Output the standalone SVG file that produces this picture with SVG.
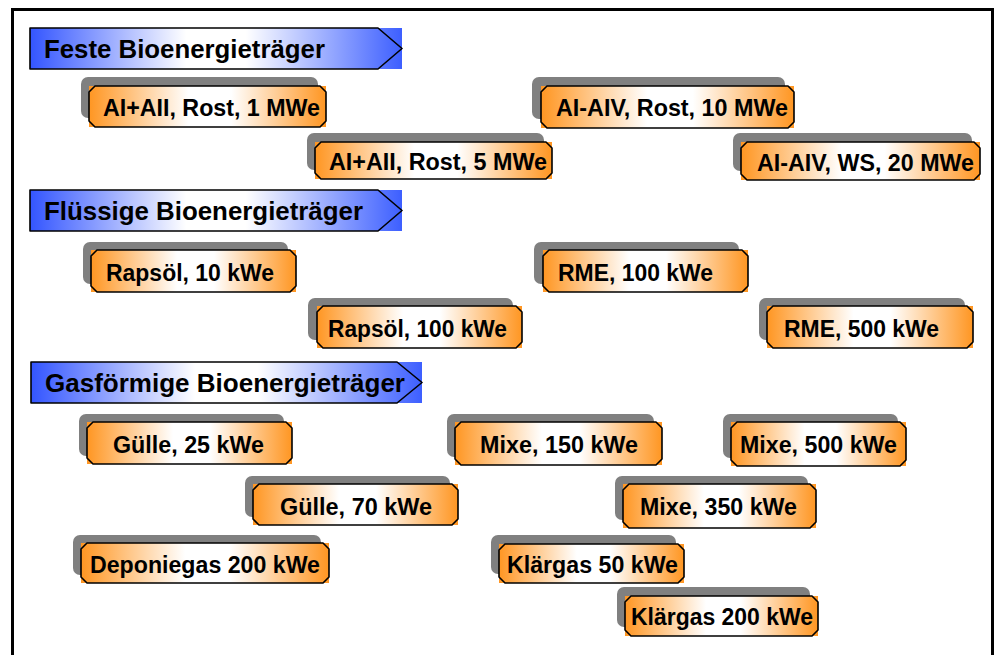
<svg xmlns="http://www.w3.org/2000/svg" width="994" height="655" viewBox="0 0 994 655">
<defs>
<linearGradient id="gBlue" x1="0" y1="0" x2="1" y2="0">
<stop offset="0" stop-color="#3355FF"/>
<stop offset="0.42" stop-color="#FFFFFF"/>
<stop offset="0.58" stop-color="#FFFFFF"/>
<stop offset="1" stop-color="#3D5FFF"/>
</linearGradient>
<linearGradient id="gOrange" x1="0" y1="0" x2="1" y2="0">
<stop offset="0" stop-color="#FF9622"/>
<stop offset="0.42" stop-color="#FFFFFF"/>
<stop offset="0.6" stop-color="#FFFFFF"/>
<stop offset="1" stop-color="#FF9622"/>
</linearGradient>
<style>
.shadow{fill:#808080;}
.ofill{fill:url(#gOrange);}
.bfill{fill:url(#gBlue);}
.outline{fill:none;stroke:#000;stroke-width:1.6;stroke-linejoin:round;}
.lbl{font-family:"Liberation Sans",Arial,sans-serif;font-weight:bold;font-size:23px;fill:#000;}
.hdr{font-family:"Liberation Sans",Arial,sans-serif;font-weight:bold;font-size:25px;fill:#000;}
.frame{fill:none;stroke:#000;stroke-width:3;}
</style>
</defs>
<rect x="0" y="0" width="994" height="655" fill="#FFFFFF"/>
<path class="frame" d="M12.5,656 V9.5 H992.5 V656"/>

<g id="hdr-feste">
<rect class="bfill" x="30" y="28" width="372" height="41"/>
<path class="outline" d="M30,28 H378 L402,48.5 L378,69 H30 Z"/>
<text class="hdr" x="44" y="58" textLength="281" lengthAdjust="spacingAndGlyphs">Feste Bioenergieträger</text>
</g>
<g id="hdr-fluessig">
<rect class="bfill" x="30" y="190" width="372" height="41"/>
<path class="outline" d="M30,190 H378 L402,210.5 L378,231 H30 Z"/>
<text class="hdr" x="44" y="220" textLength="319" lengthAdjust="spacingAndGlyphs">Flüssige Bioenergieträger</text>
</g>
<g id="hdr-gas">
<rect class="bfill" x="31" y="362" width="391" height="41"/>
<path class="outline" d="M31,362 H397 L422,382.5 L397,403 H31 Z"/>
<text class="hdr" x="45" y="392" textLength="360" lengthAdjust="spacingAndGlyphs">Gasförmige Bioenergieträger</text>
</g>

<g id="n1">
<rect class="shadow" x="81" y="77" width="237" height="41" rx="7"/>
<rect class="ofill" x="89" y="86" width="237" height="41"/>
<path class="outline" d="M95,86 H320 L326,92 V121 L320,127 H95 L89,121 V92 Z"/>
<text class="lbl" x="103" y="116" textLength="217" lengthAdjust="spacingAndGlyphs">AI+AII, Rost, 1 MWe</text>
</g>
<g id="n2">
<rect class="shadow" x="307" y="133" width="237" height="37" rx="7"/>
<rect class="ofill" x="315" y="142" width="237" height="37"/>
<path class="outline" d="M321,142 H546 L552,148 V173 L546,179 H321 L315,173 V148 Z"/>
<text class="lbl" x="329" y="170" textLength="218" lengthAdjust="spacingAndGlyphs">AI+AII, Rost, 5 MWe</text>
</g>
<g id="n3">
<rect class="shadow" x="532" y="77" width="253" height="42" rx="7"/>
<rect class="ofill" x="541" y="86" width="253" height="42"/>
<path class="outline" d="M547,86 H788 L794,92 V122 L788,128 H547 L541,122 V92 Z"/>
<text class="lbl" x="556" y="116" textLength="232" lengthAdjust="spacingAndGlyphs">AI-AIV, Rost, 10 MWe</text>
</g>
<g id="n4">
<rect class="shadow" x="733" y="133" width="239" height="38" rx="7"/>
<rect class="ofill" x="741" y="142" width="239" height="38"/>
<path class="outline" d="M747,142 H974 L980,148 V174 L974,180 H747 L741,174 V148 Z"/>
<text class="lbl" x="757" y="171" textLength="217" lengthAdjust="spacingAndGlyphs">AI-AIV, WS, 20 MWe</text>
</g>

<g id="n5">
<rect class="shadow" x="83" y="242" width="205" height="42" rx="7"/>
<rect class="ofill" x="91" y="250" width="205" height="42"/>
<path class="outline" d="M97,250 H290 L296,256 V286 L290,292 H97 L91,286 V256 Z"/>
<text class="lbl" x="106" y="281" textLength="168" lengthAdjust="spacingAndGlyphs">Rapsöl, 10 kWe</text>
</g>
<g id="n6">
<rect class="shadow" x="308" y="298" width="205" height="42" rx="7"/>
<rect class="ofill" x="317" y="306" width="205" height="42"/>
<path class="outline" d="M323,306 H516 L522,312 V342 L516,348 H323 L317,342 V312 Z"/>
<text class="lbl" x="328" y="337" textLength="179" lengthAdjust="spacingAndGlyphs">Rapsöl, 100 kWe</text>
</g>
<g id="n7">
<rect class="shadow" x="534" y="242" width="205" height="42" rx="7"/>
<rect class="ofill" x="543" y="250" width="205" height="42"/>
<path class="outline" d="M549,250 H742 L748,256 V286 L742,292 H549 L543,286 V256 Z"/>
<text class="lbl" x="558" y="281" textLength="155" lengthAdjust="spacingAndGlyphs">RME, 100 kWe</text>
</g>
<g id="n8">
<rect class="shadow" x="759" y="298" width="206" height="42" rx="7"/>
<rect class="ofill" x="767" y="306" width="206" height="42"/>
<path class="outline" d="M773,306 H967 L973,312 V342 L967,348 H773 L767,342 V312 Z"/>
<text class="lbl" x="784" y="337" textLength="155" lengthAdjust="spacingAndGlyphs">RME, 500 kWe</text>
</g>

<g id="n9">
<rect class="shadow" x="79" y="414" width="205" height="42" rx="7"/>
<rect class="ofill" x="87" y="422" width="205" height="42"/>
<path class="outline" d="M93,422 H286 L292,428 V458 L286,464 H93 L87,458 V428 Z"/>
<text class="lbl" x="113" y="453" textLength="151" lengthAdjust="spacingAndGlyphs">Gülle, 25 kWe</text>
</g>
<g id="n10">
<rect class="shadow" x="245" y="476" width="205" height="41" rx="7"/>
<rect class="ofill" x="253" y="484" width="205" height="41"/>
<path class="outline" d="M259,484 H452 L458,490 V519 L452,525 H259 L253,519 V490 Z"/>
<text class="lbl" x="280" y="515" textLength="152" lengthAdjust="spacingAndGlyphs">Gülle, 70 kWe</text>
</g>
<g id="n11">
<rect class="shadow" x="73" y="535" width="248" height="40" rx="7"/>
<rect class="ofill" x="81" y="543" width="248" height="40"/>
<path class="outline" d="M87,543 H323 L329,549 V577 L323,583 H87 L81,577 V549 Z"/>
<text class="lbl" x="90" y="573" textLength="230" lengthAdjust="spacingAndGlyphs">Deponiegas 200 kWe</text>
</g>
<g id="n12">
<rect class="shadow" x="447" y="414" width="207" height="43" rx="7"/>
<rect class="ofill" x="455" y="422" width="207" height="43"/>
<path class="outline" d="M461,422 H656 L662,428 V459 L656,465 H461 L455,459 V428 Z"/>
<text class="lbl" x="480" y="453" textLength="158" lengthAdjust="spacingAndGlyphs">Mixe, 150 kWe</text>
</g>
<g id="n13">
<rect class="shadow" x="723" y="414" width="175" height="44" rx="7"/>
<rect class="ofill" x="731" y="422" width="175" height="44"/>
<path class="outline" d="M737,422 H900 L906,428 V460 L900,466 H737 L731,460 V428 Z"/>
<text class="lbl" x="740" y="453" textLength="157" lengthAdjust="spacingAndGlyphs">Mixe, 500 kWe</text>
</g>
<g id="n14">
<rect class="shadow" x="615" y="476" width="193" height="44" rx="7"/>
<rect class="ofill" x="623" y="484" width="193" height="44"/>
<path class="outline" d="M629,484 H810 L816,490 V522 L810,528 H629 L623,522 V490 Z"/>
<text class="lbl" x="640" y="515" textLength="157" lengthAdjust="spacingAndGlyphs">Mixe, 350 kWe</text>
</g>
<g id="n15">
<rect class="shadow" x="491" y="535" width="185" height="39" rx="7"/>
<rect class="ofill" x="499" y="544" width="185" height="39"/>
<path class="outline" d="M505,544 H678 L684,550 V577 L678,583 H505 L499,577 V550 Z"/>
<text class="lbl" x="507" y="573" textLength="171" lengthAdjust="spacingAndGlyphs">Klärgas 50 kWe</text>
</g>
<g id="n16">
<rect class="shadow" x="617" y="587" width="193" height="40" rx="7"/>
<rect class="ofill" x="625" y="596" width="193" height="40"/>
<path class="outline" d="M631,596 H812 L818,602 V630 L812,636 H631 L625,630 V602 Z"/>
<text class="lbl" x="631" y="625" textLength="182" lengthAdjust="spacingAndGlyphs">Klärgas 200 kWe</text>
</g>
</svg>
